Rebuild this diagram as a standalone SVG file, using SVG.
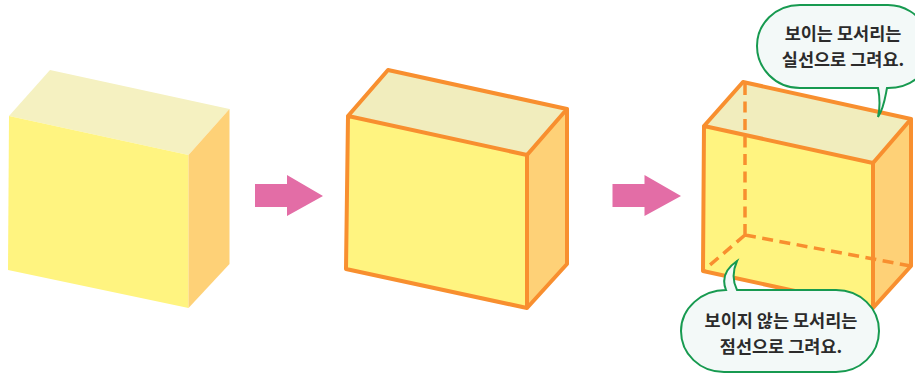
<svg xmlns="http://www.w3.org/2000/svg" width="915" height="373" viewBox="0 0 915 373">
<style>
.top{fill:#f5f1c1}.top2{fill:#f1edbd}.front{fill:#fff480}.side{fill:#fed177}
.edge{fill:none;stroke:#f88f2f;stroke-width:4;stroke-linejoin:round;stroke-linecap:round}
.dash{fill:none;stroke:#f88f2f;stroke-width:3.500;stroke-dasharray:11 6.500}
.arrow{fill:#e36da6}
.bubble{fill:#f3f9f8;stroke:#179a50;stroke-width:2}
.t{font-family:"Noto Sans CJK KR","Noto Sans",sans-serif;font-weight:700;font-size:17.500px;fill:#2b2b2b;text-anchor:middle}
</style>
<rect width="915" height="373" fill="#fff"/>
<g id="box1">
<polygon class="top" points="9,116 50,70 229.500,109 188.500,155"/>
<polygon class="front" points="9,116 188.500,155 188.500,308 8,270"/>
<polygon class="side" points="188.500,155 229.500,109 229.500,264 188.500,308"/>
</g>
<g id="box2">
<polygon class="top2" points="348,116 388,70 567,109 527,155"/>
<polygon class="front" points="348,116 527,155 527,308 346,269"/>
<polygon class="side" points="527,155 567,109 567,264 527,308"/>
<path class="edge" d="M348,116 388,70 567,109 527,155 348,116 346,269 527,308 567,264 567,109M527,155V308"/>
</g>
<g id="box3">
<polygon class="top2" points="704,126 743,82 911,119 873,163"/>
<polygon class="front" points="704,126 873,163 873,308 703,271"/>
<polygon class="side" points="873,163 911,119 911,266 873,308"/>
<path class="dash" d="M745,84V235M745,235 703,271M745,235 911,266"/>
<path class="edge" d="M704,126 743,82 911,119 873,163 704,126 703,271 873,308 911,266 911,119M873,163V308"/>
</g>
<g id="connectors">
<polygon class="arrow" points="255,184 287,184 287,175 323,196 287,216 287,207 255,207"/>
<polygon class="arrow" points="612.500,184 644.500,184 644.500,175 681,196 644.500,216 644.500,207 612.500,207"/>
</g>
<g id="callout1">
<path class="bubble" d="M800,5H888C905,5 918,15 924,25V70C916,82 905,88 888,88H887C885,98 884,108 878,117C880,108 880,98 878,88H800C775,88 757,68 757,46C757,24 775,5 800,5Z"/>
<text class="t" x="843" y="40">보이는 모서리는</text>
<text class="t" x="843" y="66">실선으로 그려요.</text>
</g>
<g id="callout2">
<path class="bubble" d="M726,290C722,280 724,270 737,261C733,270 732,280 737,290H836C860,290 879,308 879,331C879,354 860,372 836,372H724C700,372 681,354 681,331C681,308 702,290 726,290Z"/>
<text class="t" x="781" y="327">보이지 않는 모서리는</text>
<text class="t" x="781" y="353">점선으로 그려요.</text>
</g>
</svg>
